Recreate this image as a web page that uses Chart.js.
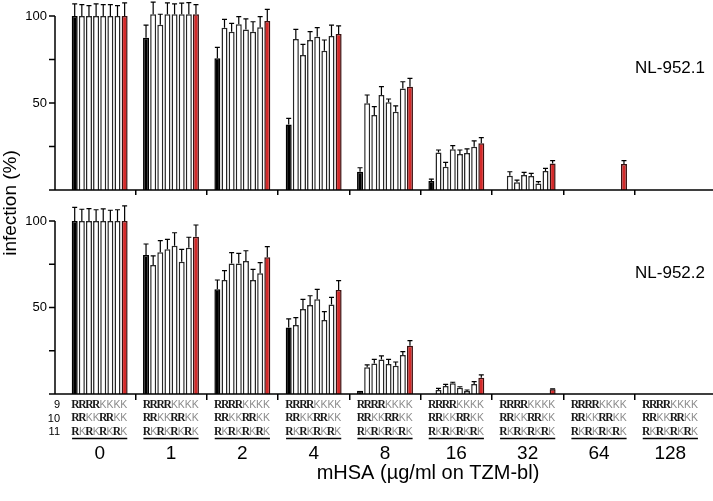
<!DOCTYPE html>
<html>
<head>
<meta charset="utf-8">
<script src="https://cdn.jsdelivr.net/npm/chart.js@4.4.1/dist/chart.umd.min.js"></script>
<style>
  body { margin: 0; background: #fff; }
  #wrap { position: relative; width: 713px; height: 501px; }
  canvas { position: absolute; left: 0; top: 0; }
</style>
</head>
<body>
<div id="wrap">
  <canvas id="topChart" width="713" height="501"></canvas>
  <canvas id="bottomChart" width="713" height="501"></canvas>
</div>
<script>
// mHSA concentrations (ug/ml)
const doses = ['0', '1', '2', '4', '8', '16', '32', '64', '128'];

// NL-952.1 - infection (%) per bar, one array per bar position
const nl1_s1 = [100, 87.5, 75.7, 37.7, 10.5, 5.2, 0, 0, 0];
const nl1_s2 = [100, 101, 93.3, 86.8, 49.8, 21.6, 8.2, 0, 0];
const nl1_s3 = [100, 95, 91, 77.6, 43.1, 13.4, 4.4, 0, 0];
const nl1_s4 = [100, 101, 95.2, 86.2, 54.6, 23.4, 8.6, 0, 0];
const nl1_s5 = [100, 101, 92.3, 88.1, 50.4, 20.7, 8.0, 0, 0];
const nl1_s6 = [100, 101, 91, 80, 45, 21.3, 3.8, 0, 0];
const nl1_s7 = [100, 101, 93.5, 88.5, 58.4, 24.9, 10.9, 0, 0];
const nl1_s8 = [100, 101, 97.1, 89.7, 59.4, 26.8, 15.3, 14.9, 0];
// NL-952.1 - error (upper)
const nl1_e1 = [7, 7.3, 6.3, 3.5, 2.3, 1.1, 0, 0, 0];
const nl1_e2 = [6.5, 7, 4.8, 5.5, 4.8, 1.4, 2.3, 0, 0];
const nl1_e3 = [6, 6, 4.8, 6.1, 4.8, 2.5, 1.3, 0, 0];
const nl1_e4 = [7, 6.5, 4.4, 4.8, 4.8, 2.1, 1.5, 0, 0];
const nl1_e5 = [6.5, 6, 6, 5.2, 1.9, 2.3, 1.6, 0, 0];
const nl1_e6 = [6.5, 6.4, 5.7, 6.2, 3.4, 2.3, 1.0, 0, 0];
const nl1_e7 = [6, 6.7, 6.1, 6.3, 3.8, 3.3, 1.5, 0, 0];
const nl1_e8 = [7.5, 5.5, 6.7, 4.6, 4.8, 3.3, 1.6, 2, 0];

// NL-952.2
const nl2_s1 = [100, 80.3, 60.5, 38.5, 1.9, 0, 0, 0, 0];
const nl2_s2 = [100, 74.6, 65.9, 39.9, 15.4, 2.3, 0, 0, 0];
const nl2_s3 = [100, 81.9, 75.5, 49.1, 17.7, 4.6, 0, 0, 0];
const nl2_s4 = [100, 83.6, 75.5, 51.4, 20, 6.2, 0, 0, 0];
const nl2_s5 = [100, 85.7, 76.9, 54.7, 17.3, 3.6, 0, 0, 0];
const nl2_s6 = [100, 76.5, 65.9, 42.8, 16.4, 1.7, 0, 0, 0];
const nl2_s7 = [100, 84.6, 69.8, 51.8, 22.5, 5.8, 0, 0, 0];
const nl2_s8 = [100, 90.9, 79, 60.1, 27.9, 9.4, 2.7, 0, 0];
const nl2_e1 = [7.9, 6.4, 5.4, 4.9, 0, 0, 0, 0, 0];
const nl2_e2 = [6.8, 5.2, 5.4, 4.2, 1.4, 1, 0, 0, 0];
const nl2_e3 = [7.2, 6.7, 6.2, 5.6, 2.3, 1, 0, 0, 0];
const nl2_e4 = [6.5, 5.8, 5.8, 5.4, 2, 0.6, 0, 0, 0];
const nl2_e5 = [7, 7.5, 5.9, 5.8, 2.7, 0.6, 0, 0, 0];
const nl2_e6 = [6.2, 7.1, 6.1, 4.8, 2.1, 0.6, 0, 0, 0];
const nl2_e7 = [6.5, 6, 6.1, 4.1, 2, 1.3, 0, 0, 0];
const nl2_e8 = [8.7, 6.8, 6.2, 5.4, 2.9, 1.6, 0.3, 0, 0];

// y ticks, sequence table under the x axis
const yTicks = [0, 25, 50, 75, 100];
const yLabelled = [50, 100];
const seqLabels = ['9', '10', '11'];
const seqMotifs = ['RRRRKKKK', 'RRKKRRKK', 'RKRKRKRK'];

const SANS = "'Liberation Sans', Arial, sans-serif";
const SERIF = "'Liberation Serif', 'DejaVu Serif', serif";
Chart.defaults.font.family = SANS;
Chart.defaults.color = '#000';

const fills = ['#000000', '#ffffff', '#ffffff', '#ffffff', '#ffffff', '#ffffff', '#ffffff', '#d42a2a'];
const edges = ['#000000', '#262626', '#262626', '#262626', '#262626', '#262626', '#262626', '#3a1010'];

function buildSets(series, errors) {
  return series.map((vals, i) => ({
    data: vals.map(v => v || null),
    errors: errors[i],
    backgroundColor: fills[i],
    borderColor: edges[i],
    borderWidth: 1.5,
    categoryPercentage: 0.8,
    barPercentage: 0.84,
    clip: false
  }));
}

function decor(panelName, withTable) {
  return {
    id: 'decor',
    afterDatasetsDraw(chart) {
      const ctx = chart.ctx;
      const x = chart.scales.x, y = chart.scales.y;
      const area = chart.chartArea;
      ctx.save();

      // error bars (upper only)
      ctx.strokeStyle = '#000';
      ctx.lineWidth = 1.2;
      chart.data.datasets.forEach((ds, i) => {
        chart.getDatasetMeta(i).data.forEach((bar, j) => {
          const v = ds.data[j], e = ds.errors[j];
          if (!v || !e) return;
          const yTop = y.getPixelForValue(v + e);
          ctx.beginPath();
          ctx.moveTo(bar.x, bar.y);
          ctx.lineTo(bar.x, yTop);
          ctx.moveTo(bar.x - 2.5, yTop);
          ctx.lineTo(bar.x + 2.5, yTop);
          ctx.stroke();
        });
      });

      // y axis line, ticks and labels, baseline
      const ax = area.left - 9;
      const y0 = y.getPixelForValue(0);
      ctx.lineWidth = 1.5;
      ctx.beginPath();
      ctx.moveTo(ax, y0);
      ctx.lineTo(ax, y.getPixelForValue(100));
      yTicks.forEach(t => {
        const p = y.getPixelForValue(t);
        ctx.moveTo(ax - 6, p);
        ctx.lineTo(ax, p);
      });
      ctx.moveTo(ax - 6, y0);
      ctx.lineTo(chart.width, y0);
      ctx.stroke();

      ctx.fillStyle = '#000';
      ctx.font = '13px ' + SANS;
      ctx.textAlign = 'right';
      ctx.textBaseline = 'middle';
      yLabelled.forEach(t => ctx.fillText(String(t), ax - 8, y.getPixelForValue(t)));

      // panel name
      ctx.font = '17px ' + SANS;
      ctx.fillText(panelName, 705, y.getPixelForValue(70));

      if (withTable) {
        // sequence motifs under each dose
        ctx.font = '11px ' + SANS;
        ctx.textAlign = 'right';
        seqLabels.forEach((lab, r) => ctx.fillText(lab, 60, y0 + 11 + r * 13.5));
        const cw = 6.9;
        doses.forEach((d, i) => {
          const cx = x.getPixelForValue(i);
          const start = cx - 4 * cw;
          ctx.textAlign = 'center';
          seqMotifs.forEach((motif, r) => {
            const ty = y0 + 11 + r * 13.5;
            [...motif].forEach((ch, k) => {
              if (ch === 'R') {
                ctx.font = 'bold 11.5px ' + SERIF;
                ctx.fillStyle = '#1a1a1a';
              } else {
                ctx.font = '10.5px ' + SANS;
                ctx.fillStyle = '#8c8c8c';
              }
              ctx.fillText(ch, start + (k + 0.5) * cw, ty);
            });
          });
          ctx.strokeStyle = '#000';
          ctx.lineWidth = 1.6;
          ctx.beginPath();
          ctx.moveTo(start, y0 + 44.5);
          ctx.lineTo(start + 8 * cw, y0 + 44.5);
          ctx.stroke();
          // dose label
          ctx.fillStyle = '#000';
          ctx.font = '19px ' + SANS;
          ctx.fillText(d, cx, y0 + 60);
        });

        // axis titles
        ctx.fillStyle = '#000';
        ctx.font = '20px ' + SANS;
        ctx.textAlign = 'center';
        ctx.fillText('mHSA (\u00b5g/ml on TZM-bl)', 428, y0 + 79);
        ctx.save();
        ctx.translate(11, 203);
        ctx.rotate(-Math.PI / 2);
        ctx.font = '19px ' + SANS;
        ctx.fillText('infection (%)', 0, 0);
        ctx.restore();
      }
      ctx.restore();
    }
  };
}

function makeChart(id, series, errors, panelName, pad, withTable) {
  return new Chart(document.getElementById(id), {
    type: 'bar',
    data: { labels: doses, datasets: buildSets(series, errors) },
    options: {
      responsive: false,
      animation: false,
      events: [],
      layout: { autoPadding: false, padding: pad },
      plugins: { legend: { display: false }, tooltip: { enabled: false } },
      scales: {
        x: {
          border: { display: false },
          grid: {
            drawOnChartArea: false,
            tickLength: withTable ? 6 : 5,
            lineWidth: 1.5,
            color: c => (c.type !== 'tick' || c.index === 0) ? 'rgba(0,0,0,0)' : '#000'
          },
          ticks: { display: false }
        },
        y: {
          min: 0,
          max: 100,
          border: { display: false },
          grid: { display: false },
          afterFit: s => { s.width = 64; },
          ticks: { display: false, stepSize: 25 }
        }
      }
    },
    plugins: [decor(panelName, withTable)]
  });
}

// plot areas: top panel 16..190, bottom panel 221..394, x from 64 to 706
makeChart('topChart',
  [nl1_s1, nl1_s2, nl1_s3, nl1_s4, nl1_s5, nl1_s6, nl1_s7, nl1_s8],
  [nl1_e1, nl1_e2, nl1_e3, nl1_e4, nl1_e5, nl1_e6, nl1_e7, nl1_e8],
  'NL-952.1', { top: 16, bottom: 306, left: 0, right: 7 }, false);

makeChart('bottomChart',
  [nl2_s1, nl2_s2, nl2_s3, nl2_s4, nl2_s5, nl2_s6, nl2_s7, nl2_s8],
  [nl2_e1, nl2_e2, nl2_e3, nl2_e4, nl2_e5, nl2_e6, nl2_e7, nl2_e8],
  'NL-952.2', { top: 221, bottom: 101, left: 0, right: 7 }, true);
</script>
</body>
</html>
